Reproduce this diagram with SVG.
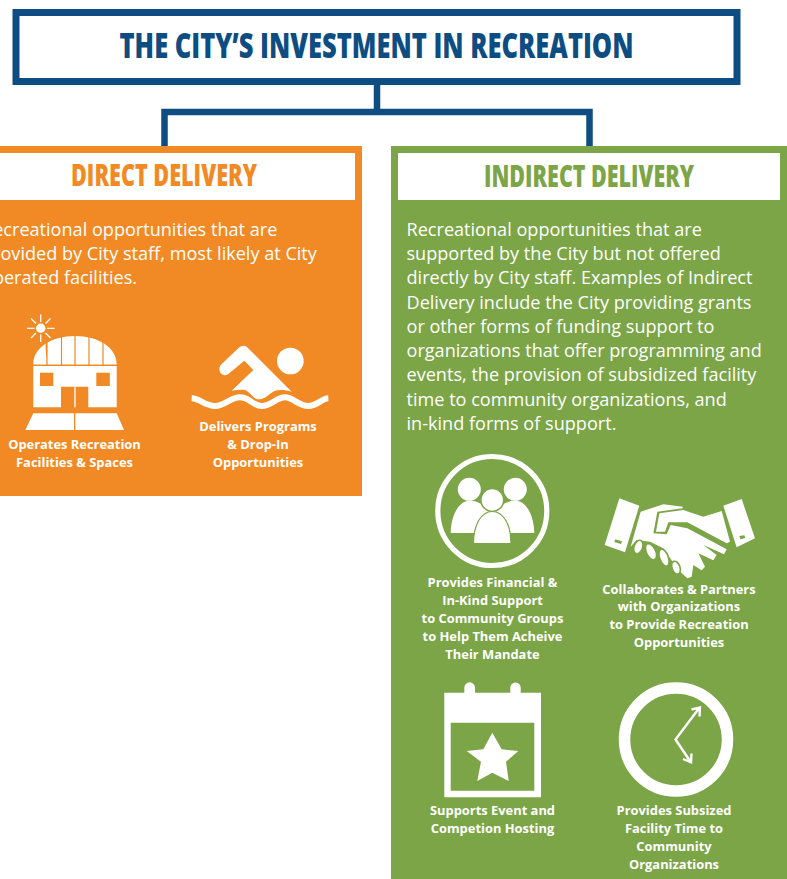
<svg xmlns="http://www.w3.org/2000/svg" width="787" height="879" viewBox="0 0 787 879">
<style>
.hd{font-family:"Open Sans","Liberation Sans",sans-serif;font-weight:800;text-anchor:middle}
.body{font-family:"Open Sans","Liberation Sans",sans-serif;font-size:18.1px;fill:#fff}
.cap{font-family:"Open Sans","Liberation Sans",sans-serif;font-size:12.9px;font-weight:700;fill:#fff;text-anchor:middle}
.w{fill:#fff}
.o{fill:#f18a24}
.g{fill:#7ba547}
</style>
<rect width="787" height="879" fill="#fff"/>
<g id="connectors" fill="none" stroke="#0e4d81" stroke-width="6.500">
<path d="M377 84V112"/>
<path d="M164.500 146V112H589.500V146"/>
</g>
<g id="title">
<rect x="16" y="12.500" width="721" height="69" fill="#fff" stroke="#0e4d81" stroke-width="7"/>
<text class="hd" x="376.500" y="58" font-size="36" fill="#0e4d81" textLength="514" lengthAdjust="spacingAndGlyphs">THE CITY’S INVESTMENT IN RECREATION</text>
</g>
<g id="direct">
<rect x="-10" y="146" width="372" height="350" class="o"/>
<rect x="-10" y="153" width="365" height="47" class="w"/>
<text class="hd" x="164" y="186" font-size="30" fill="#f18a24" textLength="186" lengthAdjust="spacingAndGlyphs">DIRECT DELIVERY</text>
<text class="body"><tspan x="-18" y="236">Recreational opportunities that are</tspan><tspan x="-18" y="260">provided by City staff, most likely at City</tspan><tspan x="-18" y="284">operated facilities.</tspan></text>
</g>
<g id="facilities-icon">
<circle cx="40.700" cy="328.300" r="4.700" class="w"/>
<path d="M40.700 314.500v7.500M40.700 334.500v7.500M27 328.300h7.500M47 328.300h7.500M31 318.500l5 5M45.500 333l5 5M50.500 318.500l-5 5M36 333l-5 5" stroke="#fff" stroke-width="1.300" fill="none"/>
<path class="w" d="M33.300 364.500C33.300 347 52 336 75 336C98 336 116.700 347 116.700 364.500ZM33.300 366H116.700V407.300H88.300V386.700H61V407.300H33.300Z"/>
<path d="M61.500 336V365M75 336V365M89 336V365M47 339V365C47 350 45 345 47 339M103 339V365" fill="none" stroke="#f18a24" stroke-width="1.200"/>
<rect x="40" y="372.700" width="13.300" height="13.300" class="o"/><rect x="96.300" y="372.700" width="13.500" height="13.300" class="o"/>
<rect x="74.300" y="386.700" width="1.300" height="20.600" class="w"/>
<path class="w" d="M25.300 430L33.300 413.300H74V430ZM75.300 430V413.300H116.700L124 430Z"/>
</g>
<g id="facilities-label"><text class="cap"><tspan x="74.500" y="449">Operates Recreation</tspan><tspan x="74.500" y="467">Facilities &amp; Spaces</tspan></text></g>
<g id="swim-icon" transform="translate(190 340) scale(.33333)">
<circle cx="301" cy="63" r="40" class="w"/>
<path class="w" d="M92 75L148 22Q158 14 170 20L305 155C290 150 270 148 255 152C240 158 228 178 205 178C190 178 180 155 165 150C150 148 138 150 125 152L190 90L163 62L115 102Q103 110 92 100Q84 86 92 75Z"/>
<path d="M5 175C30 176 45 198 75 198C105 198 120 172 150 172C180 172 188 198 215 198C245 198 258 172 285 172C310 172 325 198 355 198C380 198 395 176 415 175" fill="none" stroke="#fff" stroke-width="18"/>
</g>
<g id="programs-label"><text class="cap"><tspan x="258" y="431">Delivers Programs</tspan><tspan x="258" y="449">&amp; Drop-In</tspan><tspan x="258" y="467">Opportunities</tspan></text></g>
<g id="indirect">
<rect x="391" y="146" width="396" height="733" class="g"/>
<rect x="398" y="153" width="382" height="47" class="w"/>
<text class="hd" x="589" y="187" font-size="30" fill="#7ba547" textLength="210" lengthAdjust="spacingAndGlyphs">INDIRECT DELIVERY</text>
<text class="body"><tspan x="406.500" y="236">Recreational opportunities that are</tspan><tspan x="406.500" y="260">supported by the City but not offered</tspan><tspan x="406.500" y="284">directly by City staff. Examples of Indirect</tspan><tspan x="406.500" y="309">Delivery include the City providing grants</tspan><tspan x="406.500" y="333">or other forms of funding support to</tspan><tspan x="406.500" y="357">organizations that offer programming and</tspan><tspan x="406.500" y="381">events, the provision of subsidized facility</tspan><tspan x="406.500" y="406">time to community organizations, and</tspan><tspan x="406.500" y="430">in-kind forms of support.</tspan></text>
</g>
<g id="people-icon">
<circle cx="492.300" cy="511" r="54.500" fill="none" stroke="#fff" stroke-width="5.200"/>
<circle cx="469.300" cy="489.300" r="11.500" class="w"/><circle cx="515.300" cy="489.300" r="11.500" class="w"/>
<path class="w" d="M450.700 533C451 515 459 500.500 470 500.500C477 500.500 483 505 492 510C502 505 508 500.500 515 500.500C526 500.500 534 515 534.300 533Z"/>
<circle cx="492.300" cy="500" r="11.400" class="w" stroke="#7ba547" stroke-width="1.500"/>
<path class="w" d="M473.500 543.500C473.500 525 481 511.500 492.300 511.500C503.500 511.500 511 525 511 543.500Z" stroke="#7ba547" stroke-width="1.200"/>
</g>
<g id="support-label"><text class="cap"><tspan x="492.500" y="587">Provides Financial &amp;</tspan><tspan x="492.500" y="605">In-Kind Support</tspan><tspan x="492.500" y="623">to Community Groups</tspan><tspan x="492.500" y="641">to Help Them Acheive</tspan><tspan x="492.500" y="659">Their Mandate</tspan></text></g>
<g id="handshake-icon" transform="translate(600 495) scale(.33333)">
<path class="w" fill-rule="evenodd" d="M58 10L118 32L75 172L14 150ZM46 133L43 141L63 147L66 139Z"/>
<path class="w" fill-rule="evenodd" d="M370 32L425 12L465 130L410 157ZM418 123L421 133L436 129L433 121Z"/>
<path class="w" d="M122 50L190 28L248 35L248 40L172 50L160 115L200 118L212 90L262 100L380 163L372 178L310 150L350 180L340 196L295 175L315 215L305 226L280 210L275 245L262 250L235 225L190 160L150 140L110 135L92 155Z"/>
<g stroke="#7ba547" stroke-width="5" class="w">
<ellipse cx="115" cy="156" rx="13" ry="21" transform="rotate(20 115 156)"/>
<ellipse cx="153" cy="170" rx="14" ry="26" transform="rotate(-25 153 170)"/>
<ellipse cx="192" cy="188" rx="13" ry="27" transform="rotate(-20 192 188)"/>
<ellipse cx="228" cy="218" rx="12" ry="20" transform="rotate(-20 228 218)"/>
</g>
<path class="w" d="M178 55L250 45L310 65L365 48L390 140L380 145L262 82L205 82L195 110L168 110Z"/>
</g>
<g id="partners-label"><text class="cap"><tspan x="679" y="594">Collaborates &amp; Partners</tspan><tspan x="679" y="611">with Organizations</tspan><tspan x="679" y="629">to Provide Recreation</tspan><tspan x="679" y="647">Opportunities</tspan></text></g>
<g id="calendar-icon">
<path class="w" fill-rule="evenodd" d="M444.300 692.700H464.300V687.700A5.300 5.300 0 0 1 475 687.700V692.700H510.300V687.700A5.200 5.200 0 0 1 520.700 687.700V692.700H541V797.300H444.300ZM450.700 722.700V790.700H534.300V722.700Z"/>
<path class="w" d="M492.300 732.700L501.700 749.300L518.300 751L506 761.700L508.700 781L492.300 772.700L477.300 781L481 761.700L466.700 751L483.300 749.300Z"/>
</g>
<g id="event-label"><text class="cap"><tspan x="492.500" y="815">Supports Event and</tspan><tspan x="492.500" y="833">Competion Hosting</tspan></text></g>
<g id="clock-icon">
<circle cx="676" cy="739.500" r="51.500" fill="none" stroke="#fff" stroke-width="11.500"/>
<path d="M698.500 709L675.500 739.500L690 761M691.500 709.500L700 707.500L699.500 716.500M683 759L691 762.300L691.500 753.500" fill="none" stroke="#fff" stroke-width="2.400"/>
</g>
<g id="time-label"><text class="cap"><tspan x="674" y="815">Provides Subsized</tspan><tspan x="674" y="833">Facility Time to</tspan><tspan x="674" y="851">Community</tspan><tspan x="674" y="869">Organizations</tspan></text></g>
</svg>
